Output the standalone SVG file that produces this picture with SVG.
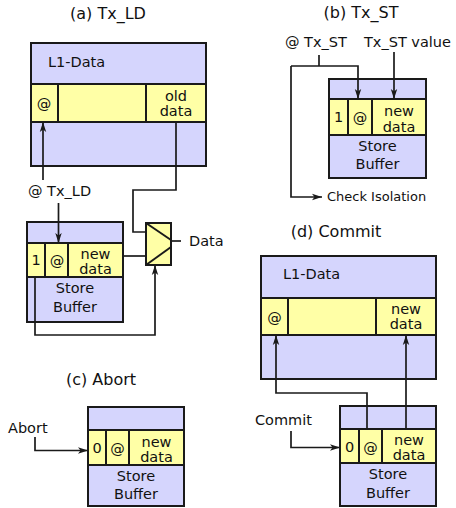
<svg xmlns="http://www.w3.org/2000/svg" width="456" height="508" viewBox="0 0 456 508">
<style>
text{font-family:"DejaVu Sans","Liberation Sans",sans-serif;fill:#111}
.t{font-size:16px;text-anchor:middle}
.l{font-size:14.5px}
.c{font-size:14.5px;text-anchor:middle}
.box{fill:#d5d5fd;stroke:#1a1a1a;stroke-width:2}
.row{fill:#ffffa6;stroke:#1a1a1a;stroke-width:2}
.div{stroke:#1a1a1a;stroke-width:2}
.w{fill:none;stroke:#1a1a1a;stroke-width:1.7}
.a{marker-end:url(#ah)}
</style>
<defs>
<marker id="ah" markerUnits="userSpaceOnUse" markerWidth="11" markerHeight="8" refX="10" refY="4" orient="auto">
<path d="M0,0.8 L10,4 L0,7.2 L2.5,4 z" fill="#1a1a1a"/>
</marker>
</defs>

<text class="t" x="108" y="19">(a) Tx_LD</text>
<text class="t" x="361" y="18">(b) Tx_ST</text>
<text class="t" x="101" y="385">(c) Abort</text>
<text class="t" x="336" y="237">(d) Commit</text>

<g id="a-l1">
<rect class="box" x="31" y="43" width="175" height="123"/>
<rect class="row" x="31" y="84" width="175" height="38"/>
<line class="div" x1="58" y1="84" x2="58" y2="122"/>
<line class="div" x1="146" y1="84" x2="146" y2="122"/>
<text class="l" x="48" y="67">L1-Data</text>
<text class="c" x="44" y="109">@</text>
<text class="c" x="176" y="101">old</text>
<text class="c" x="176" y="116">data</text>
</g>

<g id="a-sb">
<rect class="box" x="27" y="222" width="96" height="100"/>
<rect class="row" x="27" y="243" width="96" height="34"/>
<line class="div" x1="45" y1="243" x2="45" y2="277"/>
<line class="div" x1="68" y1="243" x2="68" y2="277"/>
<text class="c" x="36" y="265">1</text>
<text class="c" x="57" y="266">@</text>
<text class="c" x="95.5" y="258.5">new</text>
<text class="c" x="95.5" y="274">data</text>
<text class="c" x="75" y="293">Store</text>
<text class="c" x="75" y="312">Buffer</text>
</g>

<g id="a-mux">
<rect class="row" x="146" y="223" width="25" height="42"/>
<line class="div" x1="146" y1="223" x2="171" y2="240"/>
<line class="div" x1="171" y1="247" x2="146" y2="265"/>
</g>

<g id="a-labels">
<text class="l" x="28" y="196">@ Tx_LD</text>
<text class="l" x="189" y="246">Data</text>
</g>

<g id="b-sb">
<rect class="box" x="329" y="79" width="97" height="99"/>
<rect class="row" x="329" y="99" width="97" height="36"/>
<line class="div" x1="348" y1="99" x2="348" y2="135"/>
<line class="div" x1="372" y1="99" x2="372" y2="135"/>
<text class="c" x="338.5" y="122">1</text>
<text class="c" x="360" y="123">@</text>
<text class="c" x="399" y="116">new</text>
<text class="c" x="399" y="131.5">data</text>
<text class="c" x="377.5" y="150.5">Store</text>
<text class="c" x="377.5" y="169">Buffer</text>
</g>

<g id="b-labels">
<text class="l" x="285" y="47">@ Tx_ST</text>
<text class="l" x="364" y="47">Tx_ST value</text>
<text class="l" x="327" y="200.5" style="font-size:13px">Check Isolation</text>
</g>

<g id="c-sb">
<rect class="box" x="88" y="407" width="96" height="99"/>
<rect class="row" x="88" y="430" width="96" height="35"/>
<line class="div" x1="106" y1="430" x2="106" y2="465"/>
<line class="div" x1="129" y1="430" x2="129" y2="465"/>
<text class="c" x="97" y="453">0</text>
<text class="c" x="117.5" y="454">@</text>
<text class="c" x="156.5" y="447">new</text>
<text class="c" x="156.5" y="462">data</text>
<text class="c" x="136" y="481">Store</text>
<text class="c" x="136" y="499">Buffer</text>
</g>

<g id="c-labels">
<text class="l" x="8" y="432.5">Abort</text>
</g>

<g id="d-l1">
<rect class="box" x="261" y="256" width="175" height="123"/>
<rect class="row" x="261" y="298" width="175" height="37"/>
<line class="div" x1="288" y1="298" x2="288" y2="335"/>
<line class="div" x1="376" y1="298" x2="376" y2="335"/>
<text class="l" x="283" y="279">L1-Data</text>
<text class="c" x="274.5" y="323">@</text>
<text class="c" x="406" y="314">new</text>
<text class="c" x="406" y="329">data</text>
</g>

<g id="d-sb">
<rect class="box" x="340" y="406" width="96" height="100"/>
<rect class="row" x="340" y="429" width="96" height="34"/>
<line class="div" x1="359" y1="429" x2="359" y2="463"/>
<line class="div" x1="382" y1="429" x2="382" y2="463"/>
<text class="c" x="349.5" y="452">0</text>
<text class="c" x="370.5" y="453">@</text>
<text class="c" x="409" y="445">new</text>
<text class="c" x="409" y="460">data</text>
<text class="c" x="388" y="479">Store</text>
<text class="c" x="388" y="497.5">Buffer</text>
</g>

<g id="d-labels">
<text class="l" x="255" y="425">Commit</text>
</g>

<g id="connectors">
<polyline class="w a" points="43,180 43,122"/>
<polyline class="w a" points="58.5,203 58.5,243"/>
<polyline class="w" points="176,122 176,190 133,190 133,232 146,232"/>
<polyline class="w" points="123,256 146,256"/>
<polyline class="w a" points="35,277 35,335 155,335 155,265"/>
<polyline class="w" points="171,241 181,241"/>

<polyline class="w" points="319,55 319,66"/>
<polyline class="w a" points="291,66 358,66 358,99"/>
<polyline class="w a" points="291,66 291,197 322,197"/>
<polyline class="w a" points="394,52 394,99"/>

<polyline class="w a" points="35,437 35,450.5 88,450.5"/>

<polyline class="w a" points="367,429 367,393 276,393 276,335"/>
<polyline class="w a" points="406,429 406,335"/>
<polyline class="w a" points="291,431 291,447.5 340,447.5"/>
</g>
</svg>
